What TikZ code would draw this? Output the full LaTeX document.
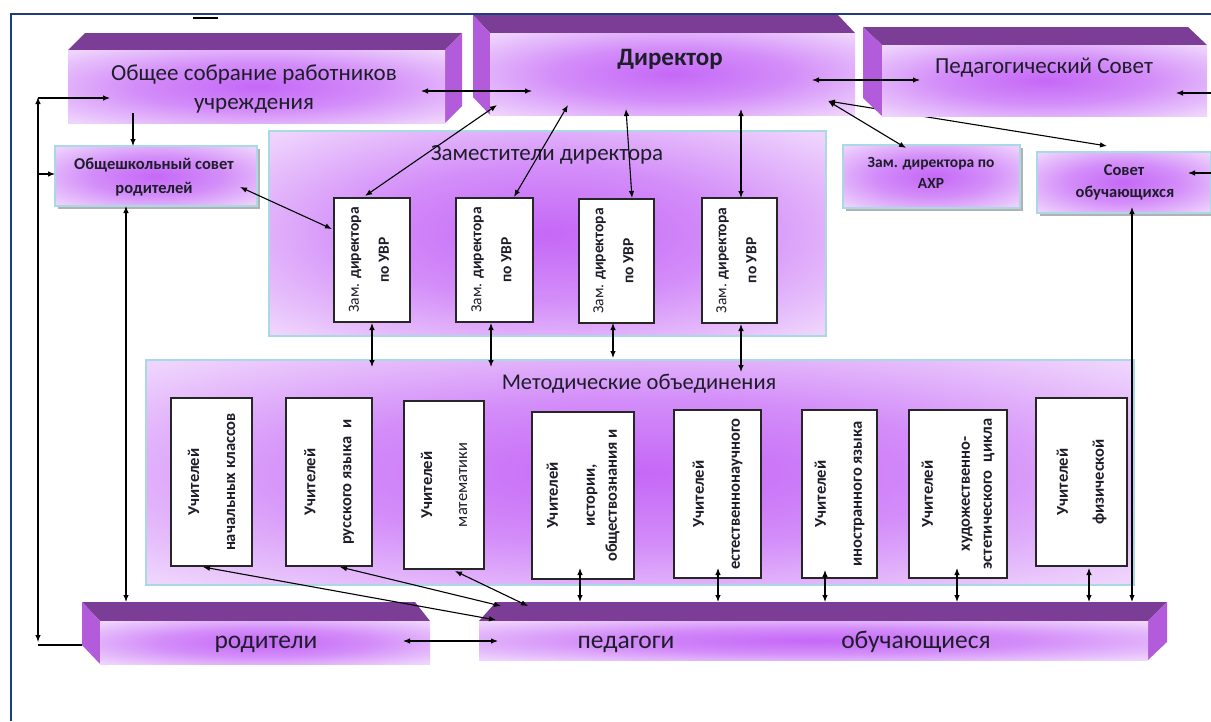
\documentclass[tikz,border=0pt]{standalone}
\usepackage{fontspec}
\setmainfont{Carlito}
\usetikzlibrary{arrows.meta,calc}
\definecolor{frameblue}{HTML}{1F3C7E}
\definecolor{topc}{HTML}{7B3D96}
\definecolor{sidec}{HTML}{B25CDB}
\definecolor{gC}{HTML}{C568F7}
\definecolor{gE}{HTML}{F4E2FD}
\definecolor{lblue}{HTML}{A9D9E4}
\definecolor{txt}{HTML}{1E1E2A}
\pgfdeclareradialshading{glow}{\pgfpoint{0bp}{0bp}}{color(0bp)=(gC); color(16bp)=(gC!70!gE); color(34bp)=(gE!88!gC); color(50bp)=(gE)}
\tikzset{
  face/.style={shade, shading=glow, draw=none, anchor=north west, inner sep=0pt, outer sep=0pt},
  cont/.style={face, draw=lblue, line width=1.2pt},
  sbox/.style={face, draw=lblue, line width=1.2pt},
  tbox/.style={draw=black!85, fill=white, line width=1.2pt, anchor=north west, inner sep=0pt, outer sep=0pt},
  rlab/.style={rotate=90, align=center, font=\bfseries\fontsize{16.5}{22}\selectfont, text=txt, inner sep=0pt},
  zlab/.style={rlab, font=\bfseries\fontsize{15.5}{22}\selectfont},
  slab/.style={anchor=base, font=\bfseries\fontsize{16.5}{20}\selectfont, text=txt, inner sep=0pt},
  big/.style={anchor=base, font=\fontsize{23}{28}\selectfont, text=txt, inner sep=0pt},
  arr/.style={-{Latex[length=7pt,width=5.5pt]}, line width=1.1pt, black},
  dbl/.style={{Latex[length=7pt,width=5.5pt]}-{Latex[length=7pt,width=5.5pt]}, line width=1.1pt, black},
  plain/.style={line width=1.1pt, black}
}
\begin{document}
\begin{tikzpicture}[x=1pt,y=-1pt]
\useasboundingbox (0,0) rectangle (1211,721);
\fill[white] (0,0) rectangle (1211,721);
% frame
\draw[frameblue, line width=2pt] (11,721) -- (11,14) -- (1211,14);
\draw[black, line width=1.5pt] (193,18) -- (218,18);

% containers
\node[cont, minimum width=557pt, minimum height=205pt] (zc) at (269,131) {};
\node[cont, minimum width=988pt, minimum height=225pt] (mc) at (146,360) {};
\node[big] (zct) at (547,160) {Заместители директора};
\node[big, font=\fontsize{22.5}{26}\selectfont] (mct) at (639,389) {Методические объединения};

% block A: Общее собрание
\fill[topc] (68,50) -- (85,33) -- (462,33) -- (445,50) -- cycle;
\fill[sidec] (445,50) -- (462,33) -- (462,106) -- (445,123) -- cycle;
\node[face, minimum width=377pt, minimum height=73pt] (obs) at (68,50) {};
\node[big] (obst1) at (254,80) {Общее собрание работников};
\node[big] (obst2) at (254,109) {учреждения};

% block B: Директор
\fill[topc] (473,15) -- (838,15) -- (855,33) -- (490,33) -- cycle;
\fill[sidec] (473,15) -- (490,33) -- (490,115) -- (473,97) -- cycle;
\node[face, minimum width=365pt, minimum height=82pt] (dir) at (490,33) {};
\node[big, font=\bfseries\fontsize{25}{28}\selectfont] (dirt) at (670,65) {Директор};

% block D: родители
\fill[topc] (82,602) -- (415,602) -- (430,621) -- (100,621) -- cycle;
\fill[sidec] (82,602) -- (100,621) -- (100,664) -- (82,645) -- cycle;
\node[face, minimum width=330pt, minimum height=43pt] (rod) at (100,621) {};
\node[big, font=\fontsize{25.5}{28}\selectfont] (rodt) at (266,648) {родители};

% block E: педагоги / обучающиеся
\fill[topc] (496,602) -- (1167,602) -- (1148,621) -- (479,621) -- cycle;
\fill[sidec] (1148,621) -- (1167,602) -- (1167,642) -- (1148,660) -- cycle;
\node[face, minimum width=669pt, minimum height=39pt] (ped) at (479,621) {};
\node[big, font=\fontsize{25.5}{28}\selectfont] (pedt) at (626,648) {педагоги};
\node[big, font=\fontsize{25.5}{28}\selectfont] (obut) at (916,648) {обучающиеся};

% small boxes with shadows
\fill[black!30] (58,149) rectangle (260,209);
\node[sbox, minimum width=202pt, minimum height=60pt] (osr) at (55,146) {};
\node[slab] (osrt1) at (154,169) {Общешкольный совет};
\node[slab] (osrt2) at (154,193) {родителей};
\fill[black!30] (846,148) rectangle (1023,211);
\node[sbox, minimum width=177pt, minimum height=63pt] (axr) at (843,145) {};
\node[slab, font=\bfseries\fontsize{15.5}{20}\selectfont] (axrt1) at (931,167) {Зам. директора по};
\node[slab, font=\bfseries\fontsize{15.5}{20}\selectfont] (axrt2) at (931,188) {АХР};
\fill[black!30] (1040,155) rectangle (1214,216);
\node[sbox, minimum width=174pt, minimum height=61pt] (sob) at (1037,152) {};
\node[slab] (sobt1) at (1124,175) {Совет};
\node[slab] (sobt2) at (1125,197) {обучающихся};

% line director -> совет обучающихся (behind Пед. совет)
\draw[dbl] (828,101) -- (1107,146);

% block C: Педагогический Совет
\fill[topc] (863,27) -- (1188,27) -- (1207,45) -- (882,45) -- cycle;
\fill[sidec] (863,27) -- (882,45) -- (882,116) -- (863,98) -- cycle;
\node[face, minimum width=325pt, minimum height=71pt] (pso) at (882,45) {};
\node[big] (psot) at (1044,73) {Педагогический Совет};

% deputy boxes
\node[tbox, minimum width=76pt, minimum height=124pt] (z1) at (334,198) {};
\node[tbox, minimum width=77pt, minimum height=124pt] (z2) at (456,198) {};
\node[tbox, minimum width=75pt, minimum height=124pt] (z3) at (579,199) {};
\node[tbox, minimum width=75pt, minimum height=125pt] (z4) at (702,198) {};
\foreach \n in {z1,z2,z3,z4}{
  \node[zlab] (\n l) at ([xshift=-3pt]\n.center) {{\mdseries Зам.} директора\\[8pt]по УВР};
}

% teacher boxes
\node[tbox, minimum width=81pt, minimum height=168pt] (t1) at (171,398) {};
\node[tbox, minimum width=86pt, minimum height=168pt] (t2) at (286,398) {};
\node[tbox, minimum width=80pt, minimum height=168pt] (t3) at (404,401) {};
\node[tbox, minimum width=102pt, minimum height=167pt] (t4) at (532,412) {};
\node[tbox, minimum width=87pt, minimum height=168pt] (t5) at (674,410) {};
\node[tbox, minimum width=75pt, minimum height=168pt] (t6) at (802,410) {};
\node[tbox, minimum width=98pt, minimum height=168pt] (t7) at (909,410) {};
\node[tbox, minimum width=91pt, minimum height=168pt] (t8) at (1036,398) {};
\node[rlab] (t1l) at (t1.center) {Учителей\\[14pt]начальных классов};
\node[rlab] (t2l) at (t2.center) {Учителей\\[14pt]русского языка\enspace и};
\node[rlab] (t3l) at (t3.center) {Учителей\\[13pt]\mdseries математики};
\node[rlab] (t4l) at (t4.center) {Учителей\\[15pt]истории,\\обществознания и};
\node[rlab] (t5l) at (t5.center) {Учителей\\[14pt]естественнонаучного};
\node[rlab] (t6l) at (t6.center) {Учителей\\[14pt]иностранного языка};
\node[rlab] (t7l) at (t7.center) {Учителей\\[15pt]художественно-\\эстетического\enspace цикла};
\node[rlab] (t8l) at (t8.center) {Учителей\\[14pt]физической};

% ---- connectors ----
\draw[dbl] (421,91) -- (532,91);
\draw[dbl] (812,80) -- (920,80);
\draw[arr] (1211,93) -- (1176,93);
\draw[dbl] (828,101) -- (906,148);
\draw[dbl] (365,196) -- (497,105);
\draw[dbl] (514,197) -- (568,105);
\draw[dbl] (632,198) -- (626,109);
\draw[dbl] (741,198) -- (741,109);
\draw[arr] (133,113) -- (osr.north -| 133,0);
\draw[dbl] (240,187) -- (332,229);
\draw[dbl] (osr.south -| 126,0) -- (126,602);
% left loop
\draw[dbl] (38,97) -- (38,642);
\draw[plain] (38,645) -- (82,645);
\draw[arr] (38,98) -- (110,98);
\draw[arr] (38,174) -- (osr.west |- 0,174);
% совет обучающихся
\draw[dbl] (1132,207) -- (1132,602);
\draw[arr] (1211,173) -- (1188,173);
% deputies <-> methodical
\draw[dbl] (372,323) -- (372,367);
\draw[dbl] (491,323) -- (491,367);
\draw[dbl] (613,323) -- (613,358);
\draw[dbl] (741,324) -- (741,372);
% teachers <-> staff
\draw[dbl] (203,567) -- (496,620);
\draw[dbl] (340,567) -- (501,606);
\draw[dbl] (455,571) -- (528,606);
\draw[dbl] (580,568) -- (580,602);
\draw[dbl] (718,568) -- (718,602);
\draw[dbl] (825,570) -- (825,602);
\draw[dbl] (957,568) -- (957,602);
\draw[dbl] (1089,568) -- (1089,602);
% родители <-> педагоги
\draw[dbl] (403,641) -- (498,641);
\end{tikzpicture}
\end{document}
